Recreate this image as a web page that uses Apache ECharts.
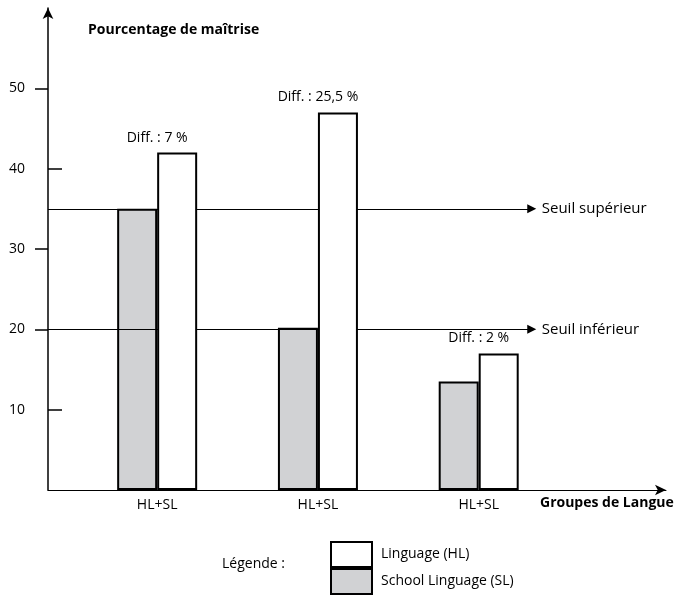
<!DOCTYPE html>
<html>
<head>
<meta charset="utf-8">
<script src="https://cdn.jsdelivr.net/npm/echarts@6/dist/echarts.min.js"></script>
<style>html,body{margin:0;padding:0;background:#fff}#main{width:676px;height:595px}</style>
</head>
<body>
<div id="main"></div>
<script>
var groups = ['HL+SL', 'HL+SL', 'HL+SL'];
var slData = [35, 20.2, 13.5];   // School Linguage (SL)
var hlData = [42, 47, 17];       // Linguage (HL)
var diffLabels = ['7 %', '25,5 %', '2 %'];
var seuils = [
    { name: 'Seuil supérieur', value: 35 },
    { name: 'Seuil inférieur', value: 20 }
];
var yLabels = [10, 20, 30, 40, 50];

var font = 'Open Sans';
var xMin = 0.321, xMax = 4.165, seuilEnd = 3.33;

var myChart = echarts.init(document.getElementById('main'));
var option = {
    animation: false,
    textStyle: { fontFamily: font, color: '#000' },
    grid: { left: 48, right: 10, top: 8, bottom: 105 },
    legend: {
        orient: 'vertical',
        left: 330, top: 541, padding: 0,
        icon: 'rect',
        itemWidth: 41, itemHeight: 25, itemGap: 0,
        textStyle: { fontFamily: font, fontSize: 14, color: '#000', padding: [0, 0, 0, 4] },
        data: ['Linguage (HL)', 'School Linguage (SL)']
    },
    graphic: [
        { type: 'text', left: 88, top: 23, style: { text: 'Pourcentage de maîtrise', font: 'bold 14px "Open Sans"', fill: '#000' } },
        { type: 'text', left: 540, top: 496, style: { text: 'Groupes de Langue', font: 'bold 14px "Open Sans"', fill: '#000' } },
        { type: 'text', left: 222, top: 557, style: { text: 'Légende :', font: '14px "Open Sans"', fill: '#000' } }
    ],
    xAxis: {
        type: 'value', min: xMin, max: xMax,
        splitLine: { show: false },
        axisTick: { show: false },
        axisLine: { lineStyle: { color: '#000', width: 1 }, symbol: ['none', 'arrow'], symbolSize: [8, 11] },
        axisLabel: {
            customValues: [1, 2, 3], margin: 8, fontSize: 14, color: '#000', fontFamily: font,
            formatter: function (v) { return groups[Math.round(v) - 1]; }
        }
    },
    yAxis: [{
        type: 'value', min: 0, max: 60, interval: 10,
        splitLine: { show: false },
        axisLine: { show: true, lineStyle: { color: '#000', width: 1.5 }, symbol: ['none', 'arrow'], symbolSize: [8, 11] },
        axisTick: { show: true, inside: false, length: 13, customValues: [20, 30, 50], lineStyle: { color: '#000', width: 1.5 } },
        axisLabel: { customValues: yLabels, margin: 23, fontSize: 14, color: '#000', fontFamily: font }
    }, {
        type: 'value', min: 0, max: 60, interval: 10, position: 'left',
        splitLine: { show: false },
        axisLine: { show: false },
        axisTick: { show: true, inside: true, length: 14, customValues: [10, 40], lineStyle: { color: '#000', width: 1.5 } },
        axisLabel: { show: false }
    }],
    series: [{
        name: 'School Linguage (SL)',
        type: 'bar', z: 2,
        barWidth: 40, barGap: '0%',
        itemStyle: { color: '#d1d2d4', borderColor: '#000', borderWidth: 2 },
        data: slData.map(function (v, i) { return [i + 1, v]; })
    }, {
        name: 'Linguage (HL)',
        type: 'bar', z: 6,
        barWidth: 40, barGap: '0%',
        itemStyle: { color: '#fff', borderColor: '#000', borderWidth: 2 },
        label: {
            show: true, position: 'top', distance: 8, offset: [-20, 0],
            fontSize: 14, color: '#000', fontFamily: font,
            formatter: function (p) { return 'Diff. : ' + diffLabels[p.dataIndex]; }
        },
        data: hlData.map(function (v, i) { return [i + 1, v]; })
    }, {
        // seuils (threshold lines), held by an empty line series so no bar offset applies
        name: 'seuils',
        type: 'line',
        data: [],
        markLine: {
            silent: true,
            z: 5,
            symbol: ['none', 'triangle'],
            symbolSize: [9, 9],
            lineStyle: { color: '#000', width: 1, type: 'solid' },
            label: { show: true, position: 'end', distance: 10, formatter: '{b}', fontSize: 15, color: '#000', fontFamily: font },
            data: seuils.map(function (s) {
                return [{ name: s.name, coord: [xMin, s.value] }, { coord: [seuilEnd, s.value] }];
            })
        }
    }]
};
myChart.setOption(option);
</script>
</body>
</html>
